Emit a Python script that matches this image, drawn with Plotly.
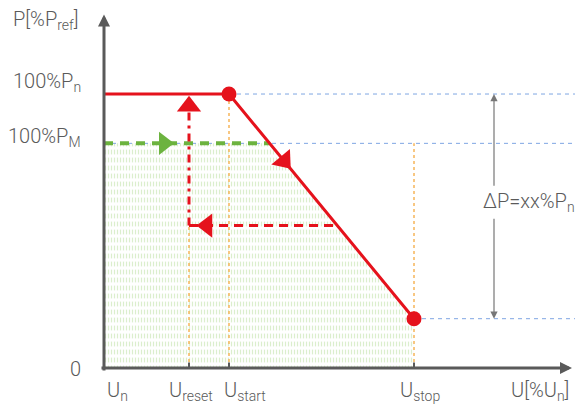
import numpy as np
import plotly.graph_objects as go

# characteristic points (U in arbitrary units, P in % of Pref)
u_names = ["U<sub>n</sub>", "U<sub>reset</sub>", "U<sub>start</sub>", "U<sub>stop</sub>"]
u_vals = [0, 85, 125, 310]
p_names = ["0", "100%P<sub>M</sub>", "100%P<sub>n</sub>"]
p_vals = [0, 82, 100]
p_stop = 18
p_reset = 52

curve_u = [0, 125, 310]
curve_p = [100, 100, 18]

u_end = 468      # x axis arrow tip
p_top = 129      # y axis arrow tip
delta_u = 390    # position of the delta-P arrow

RED = "#e5121c"
GREEN = "#6cb33f"
BLUE = "#7fa6e3"
ORANGE = "#f6b55a"
GREY = "#5a5a5a"
FONT = dict(family="Roboto", size=20, color=GREY, weight=300)

u_n, u_reset, u_start, u_stop = u_vals
p_zero, p_m, p_n = p_vals
# where horizontal levels cross the droop line
u_pm = np.interp(p_m, curve_p[::-1], curve_u[::-1])
u_rs = np.interp(p_reset, curve_p[::-1], curve_u[::-1])

fig = go.Figure()

# hatched area under PM / droop curve (vertical ticks cut into rows)
hatch_x = [u_n, u_n, u_pm, u_stop, u_stop, u_n]
hatch_y = [p_zero, p_m, p_m, p_stop, p_zero, p_zero]
fig.add_trace(go.Scatter(
    x=hatch_x, y=hatch_y, mode="none", fill="toself", fillcolor="rgba(255,255,255,0)",
    fillpattern=dict(shape="|", size=3, solidity=0.4, fgcolor="#dbeecd", fgopacity=1,
                     bgcolor="white")))
fig.add_trace(go.Scatter(
    x=hatch_x, y=hatch_y, mode="none", fill="toself", fillcolor="rgba(255,255,255,0)",
    fillpattern=dict(shape="-", size=8, solidity=0.4, fgcolor="#ffffff", fgopacity=1,
                     fillmode="overlay", bgcolor="rgba(255,255,255,0)")))

# blue dashed guide lines
for x0, y0 in [(u_start, p_n), (u_n, p_m), (u_stop, p_stop)]:
    fig.add_trace(go.Scatter(x=[x0, 479], y=[y0, y0], mode="lines",
                             line=dict(color=BLUE, width=1, dash="4px,4px")))

# orange dotted verticals
for x0, y1 in [(u_reset, p_reset), (u_start, p_n), (u_stop, p_m)]:
    fig.add_trace(go.Scatter(x=[x0, x0], y=[p_zero, y1], mode="lines",
                             line=dict(color=ORANGE, width=1.5, dash="3px,3px")))

# green dashed PM line + arrow
fig.add_trace(go.Scatter(x=[u_n, u_pm], y=[p_m, p_m], mode="lines",
                         line=dict(color=GREEN, width=4, dash="9px,7px")))
fig.add_trace(go.Scatter(x=[60], y=[p_m], mode="markers",
                         marker=dict(symbol="triangle-right", size=20, color=GREEN)))

# red reset path
fig.add_trace(go.Scatter(x=[u_reset, u_reset], y=[p_reset, p_n - 4], mode="lines",
                         line=dict(color=RED, width=3, dash="8px,5px,3px,5px")))
fig.add_trace(go.Scatter(x=[u_reset, u_rs], y=[p_reset, p_reset], mode="lines",
                         line=dict(color=RED, width=3, dash="9px,6px")))

# droop curve
fig.add_trace(go.Scatter(x=curve_u, y=curve_p, mode="lines",
                         line=dict(color=RED, width=3)))
fig.add_trace(go.Scatter(x=[u_start, u_stop], y=[p_n, p_stop], mode="markers",
                         marker=dict(size=15, color=RED)))

# red arrow heads
fig.add_trace(go.Scatter(x=[u_reset], y=[p_n - 4.5], mode="markers",
                         marker=dict(symbol="triangle-up", size=21, color=RED)))
fig.add_trace(go.Scatter(x=[u_reset + 18], y=[p_reset], mode="markers",
                         marker=dict(symbol="triangle-left", size=21, color=RED)))
u_arr = 180
fig.add_trace(go.Scatter(x=[u_arr], y=[np.interp(u_arr, curve_u[1:], curve_p[1:])], mode="markers",
                         marker=dict(symbol="triangle-right", size=21, color=RED, angle=50)))

# small ticks on the x axis
for val in u_vals[1:]:
    fig.add_trace(go.Scatter(x=[val, val], y=[0, 2], mode="lines",
                             line=dict(color=GREY, width=2)))

ann = []
# axes with arrow heads
ann.append(dict(x=0, y=p_top, ax=0, ay=-1.5, xref="x", yref="y", axref="x", ayref="y",
                text="", showarrow=True, arrowhead=2, arrowsize=0.8, arrowwidth=3, arrowcolor=GREY))
ann.append(dict(x=u_end, y=0, ax=-4, ay=0, xref="x", yref="y", axref="x", ayref="y",
                text="", showarrow=True, arrowhead=2, arrowsize=0.8, arrowwidth=3, arrowcolor=GREY))
# delta-P double arrow
ann.append(dict(x=delta_u, y=p_n, ax=delta_u, ay=66, xref="x", yref="y", axref="x", ayref="y",
                text="", showarrow=True, arrowhead=2, arrowsize=1.2, arrowwidth=1.2, arrowcolor="#777"))
ann.append(dict(x=delta_u, y=p_stop, ax=delta_u, ay=55, xref="x", yref="y", axref="x", ayref="y",
                text="", showarrow=True, arrowhead=2, arrowsize=1.2, arrowwidth=1.2, arrowcolor="#777"))
ann.append(dict(x=425, y=60.5, xref="x", yref="y", text="ΔP=xx%P<sub>n</sub>",
                showarrow=False, font=FONT))

# y labels
ann.append(dict(x=-59, y=127, xref="x", yref="y", text="P[%P<sub>ref</sub>]",
                showarrow=False, font=FONT))
for name, val, dy in zip(p_names, p_vals, [-0.5, 2.5, 4.5]):
    ann.append(dict(x=-21, y=val + dy, xref="x", yref="y", text=name, xanchor="right",
                    showarrow=False, font=FONT))

# x labels
label_x = [1, 87, 118, 294]
label_anchor = ["left", "center", "left", "left"]
for name, xx, anchor in zip(u_names, label_x, label_anchor):
    ann.append(dict(x=xx, y=-8.3, xref="x", yref="y", text=name, xanchor=anchor,
                    showarrow=False, font=FONT))
ann.append(dict(x=436, y=-8.3, xref="x", yref="y", text="U[%U<sub>n</sub>]",
                showarrow=False, font=FONT))

# the page adds an 8px body margin, so the figure is 8px smaller and the ranges start 8px in
fig.update_layout(width=575, height=397, autosize=False,
                  margin=dict(l=0, r=0, t=0, b=0),
                  showlegend=False, annotations=ann,
                  plot_bgcolor="white", paper_bgcolor="white")
fig.update_xaxes(visible=False, range=[-96, 479])
fig.update_yaxes(visible=False, range=[-13.5, 131.4])

fig.write_html("out.html")
